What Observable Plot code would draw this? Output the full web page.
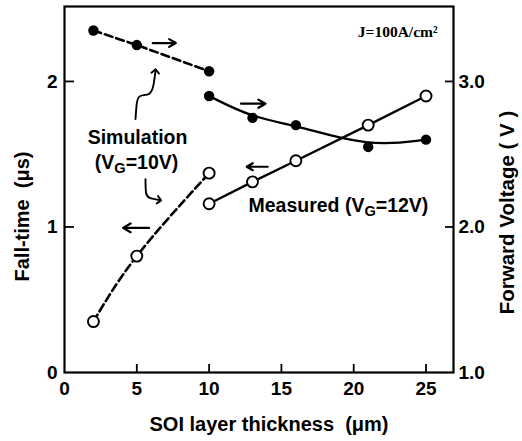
<!DOCTYPE html>
<html><head><meta charset="utf-8">
<script src="https://cdn.jsdelivr.net/npm/d3@7"></script>
<script src="https://cdn.jsdelivr.net/npm/@observablehq/plot@0.6"></script>
<style>body{margin:0;background:#fff}</style>
</head><body><div id="chart"></div>
<script>
// ---- data ----
const simThick = [2, 5, 10];
const simFallTime = [0.35, 0.80, 1.37];
const simForwardV = [3.35, 3.25, 3.07];
const measThick = [10, 13, 16, 21, 25];
const measFallTime = [1.16, 1.31, 1.455, 1.70, 1.90];
const measForwardV = [2.90, 2.75, 2.70, 2.55, 2.60];
const xTicks = [0, 5, 10, 15, 20, 25];
const yTicks = [0, 1, 2];
const vTicks = [1.0, 2.0, 3.0];
const vOffset = 1; // right axis: V = fall-time + 1

// annotations (data units: x in μm, y in μs)
const dirArrows = [
  {x1: 6.1, y1: 2.264, x2: 7.7, y2: 2.264},
  {x1: 12.2, y1: 1.847, x2: 13.9, y2: 1.847},
  {x1: 14.05, y1: 1.414, x2: 12.6, y2: 1.414},
  {x1: 5.85, y1: 0.994, x2: 4.05, y2: 0.994}
];
const curl1 = [[4.91,1.742],[5.0,1.85],[5.25,1.90],[5.85,1.915],[6.15,1.975],[6.29,2.07]];
const curl2 = [[5.60,1.329],[5.64,1.235],[5.9,1.200],[6.55,1.185]];
const simLabels = [
  {x: 5.05, y: 1.613, text: "Simulation"},
  {x: 4.98, y: 1.441, text: "(V_G=10V)"}
];
const measLabels = [
  {x: 12.72, y: 1.146, text: "Measured (V_G=12V)"}
];

const sim = simThick.map((x, i) => ({x, t: simFallTime[i], v: simForwardV[i]}));
const meas = measThick.map((x, i) => ({x, t: measFallTime[i], v: measForwardV[i]}));

const W = 522, H = 441, mL = 64, mR = 69, mT = 6, mB = 69;
const fw = W - mL - mR, fh = H - mT - mB;

const chart = Plot.plot({
  width: W, height: H,
  marginLeft: mL, marginRight: mR, marginTop: mT, marginBottom: mB,
  style: {fontFamily: "'Liberation Sans', Arial, sans-serif", fontWeight: "bold", fontSize: "19px", background: "white", color: "black"},
  x: {domain: [0, 26.9]},
  y: {domain: [0, 2.515]},
  marks: [
    Plot.frame({stroke: "black", strokeWidth: 2.2}),
    Plot.axisX(xTicks, {tickSize: 0, tickPadding: 9, fontSize: 19, tickFormat: d => String(d), label: null}),
    Plot.axisY(yTicks, {tickSize: 0, tickPadding: 7, fontSize: 19, tickFormat: d => String(d), label: null}),
    Plot.axisY(vTicks.map(v => v - vOffset), {anchor: "right", tickSize: 0, tickPadding: 5, fontSize: 19,
      tickFormat: d => (d + vOffset).toFixed(1), label: null}),
    // inward ticks
    Plot.tickX(xTicks.slice(1), {x: d => d, insetTop: fh - 8, strokeWidth: 1.8}),
    Plot.tickY(yTicks.slice(1), {y: d => d, insetRight: fw - 10, strokeWidth: 1.8}),
    Plot.tickY(vTicks.slice(1).map(v => v - vOffset), {y: d => d, insetLeft: fw - 8, strokeWidth: 1.8}),
    // lines
    Plot.line(sim, {x: "x", y: d => d.v - vOffset, strokeWidth: 2.6, strokeDasharray: "8,4"}),
    Plot.line(sim, {x: "x", y: "t", strokeWidth: 2.6, strokeDasharray: "8,4", curve: "natural"}),
    Plot.line(meas, {x: "x", y: d => d.v - vOffset, strokeWidth: 2.3, curve: "basis"}),
    Plot.line(meas, {x: "x", y: "t", strokeWidth: 2.3}),
    // points
    Plot.dot(sim, {x: "x", y: d => d.v - vOffset, r: 5.2, fill: "black"}),
    Plot.dot(meas, {x: "x", y: d => d.v - vOffset, r: 5.2, fill: "black"}),
    Plot.dot(sim, {x: "x", y: "t", r: 5.5, fill: "white", stroke: "black", strokeWidth: 1.9}),
    Plot.dot(meas, {x: "x", y: "t", r: 5.5, fill: "white", stroke: "black", strokeWidth: 1.9}),
    // direction arrows
    Plot.arrow(dirArrows, {x1: "x1", y1: "y1", x2: "x2", y2: "y2", strokeWidth: 2.2, headLength: 7, bend: 0}),
    // curly pointers
    Plot.line(curl1, {x: d => d[0], y: d => d[1], curve: "natural", strokeWidth: 1.9, markerEnd: "arrow"}),
    Plot.line(curl2, {x: d => d[0], y: d => d[1], curve: "natural", strokeWidth: 1.9, markerEnd: "arrow"}),
    // labels
    Plot.text(simLabels, {x: "x", y: "y", text: "text", textAnchor: "middle", fontSize: 19.5, fontWeight: "bold"}),
    Plot.text(measLabels, {x: "x", y: "y", text: "text", textAnchor: "start", fontSize: 19.5, fontWeight: "bold"}),
    Plot.text(["J=100A/cm²"], {x: 25.8, y: 2.34, text: d => d, textAnchor: "end", fontSize: 15.5,
      fontFamily: "'Liberation Serif', 'Times New Roman', serif", fontWeight: "bold"}),
    // axis titles
    Plot.text(["Fall-time  (μs)"], {frameAnchor: "left", textAnchor: "middle", lineAnchor: "middle", dx: -42, dy: 27, rotate: -90, text: d => d, fontSize: 20}),
    Plot.text(["Forward Voltage ( V )"], {frameAnchor: "right", textAnchor: "middle", lineAnchor: "middle", dx: 54, dy: 23, rotate: -90, text: d => d, fontSize: 20.5}),
    Plot.text(["SOI layer thickness  (μm)"], {frameAnchor: "bottom", textAnchor: "middle", lineAnchor: "middle", dx: 10, dy: 52, text: d => d, fontSize: 20})
  ]
});

// subscripts
chart.querySelectorAll("text").forEach(t => {
  const s = t.textContent;
  if (s.includes("_G")) {
    const [a, b] = s.split("_G");
    while (t.firstChild) t.removeChild(t.firstChild);
    const ns = "http://www.w3.org/2000/svg";
    const t1 = document.createElementNS(ns, "tspan"); t1.textContent = a;
    const t2 = document.createElementNS(ns, "tspan"); t2.textContent = "G";
    t2.setAttribute("font-size", "0.75em"); t2.setAttribute("dy", "0.3em");
    const t3 = document.createElementNS(ns, "tspan"); t3.textContent = b; t3.setAttribute("dy", "-0.22em");
    t.append(t1, t2, t3);
  }
});

document.getElementById("chart").append(chart);
</script>
</body></html>
